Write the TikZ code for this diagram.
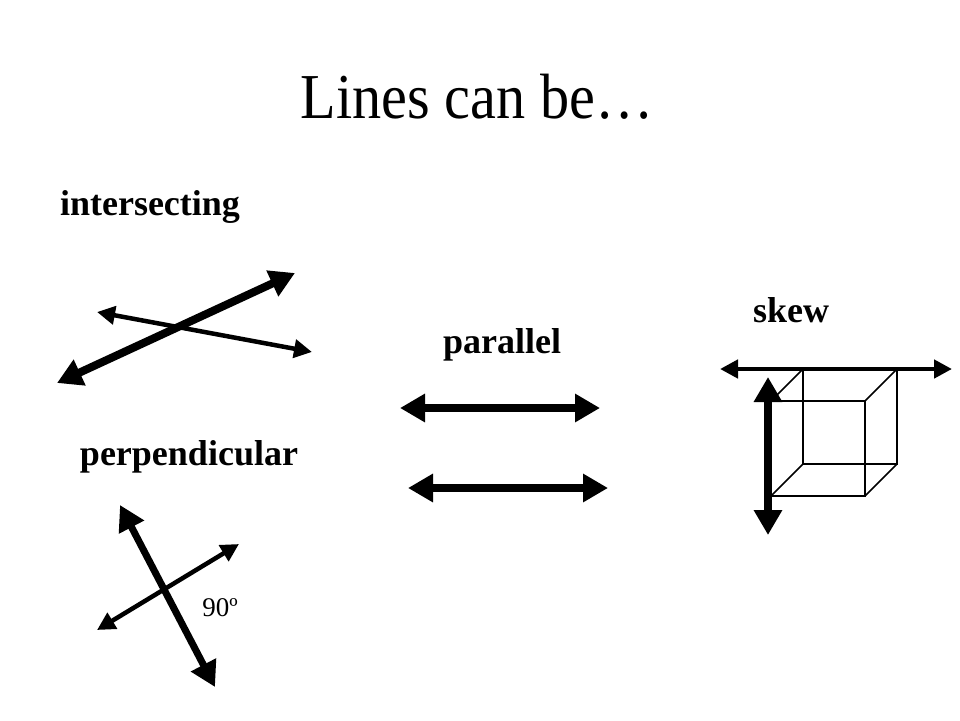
\documentclass[tikz,border=0pt]{standalone}
\usepackage{fontspec}
\setmainfont{Liberation Serif}
\usetikzlibrary{arrows.meta}

\begin{document}
\begin{tikzpicture}[x=1pt,y=-1pt,
	heavy/.style={line width=8pt,{Triangle[length=25pt,width=27pt]}-{Triangle[length=25pt,width=27pt]}},
	light/.style={line width=4.5pt,{Triangle[length=18pt,width=18pt]}-{Triangle[length=18pt,width=18pt]}},
	lbl/.style={font=\fontsize{36}{40}\selectfont\bfseries,anchor=base,inner sep=0pt},
	edge/.style={line width=1.5pt}]
		\useasboundingbox (0,0) rectangle (960,720);
		\node[font=\fontsize{64}{70}\selectfont,anchor=base,inner sep=0pt] (title) at (477,118) {\scalebox{0.91}[1]{Lines can be\ldots}};
		\node[lbl] (intLbl) at (150,215) {intersecting};
		\node[lbl] (perpLbl) at (189,465) {perpendicular};
		\node[lbl] (parLbl) at (502,353) {parallel};
		\node[lbl] (skewLbl) at (791,322) {skew};
		\node[font=\fontsize{27}{30}\selectfont,inner sep=0pt] (angLbl) at (220,608) {90º};
		% intersecting
		\coordinate (intA) at (57,383); \coordinate (intB) at (295,273);
		\coordinate (intC) at (97,312); \coordinate (intD) at (312,352);
		\draw[heavy] (intA) -- (intB);
		\draw[light] (intC) -- (intD);
		% perpendicular
		\coordinate (perpA) at (120,505); \coordinate (perpB) at (215,687);
		\coordinate (perpC) at (97,630); \coordinate (perpD) at (239,544);
		\draw[heavy,line width=7pt] (perpA) -- (perpB);
		\draw[light] (perpC) -- (perpD);
		% parallel
		\coordinate (parA) at (400,408); \coordinate (parB) at (600,408);
		\coordinate (parC) at (408,488); \coordinate (parD) at (608,488);
		\draw[heavy] (parA) -- (parB);
		\draw[heavy] (parC) -- (parD);
		% skew
		\foreach \n/\x/\y in {f1/771/401,f2/865/401,f3/865/496,f4/771/496,b1/803/369,b2/897/369,b3/897/464,b4/803/464}
			\coordinate (\n) at (\x,\y);
		\draw[edge] (f1) -- (f2) -- (f3) -- (f4) -- cycle;
		\draw[edge] (b1) -- (b2) -- (b3) -- (b4) -- cycle;
		\foreach \i in {1,...,4}
			\draw[edge] (f\i) -- (b\i);
		\coordinate (skewA) at (720,369); \coordinate (skewB) at (952,369);
		\coordinate (skewC) at (768,377); \coordinate (skewD) at (768,535);
		\draw[light] (skewA) -- (skewB);
		\draw[heavy] (skewC) -- (skewD);
\end{tikzpicture}
\end{document}
